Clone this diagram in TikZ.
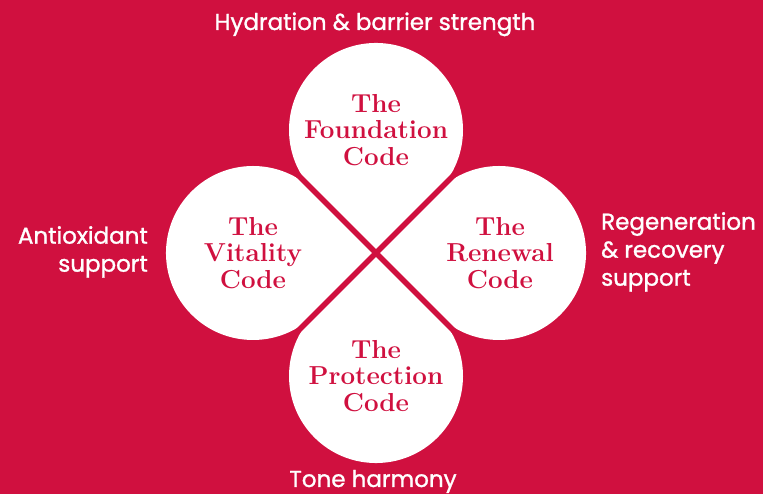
\documentclass[tikz,border=0pt]{standalone}
\usepackage{fontspec}
\usetikzlibrary{calc}
\newfontfamily\labelfont[FakeBold=1.2]{Poppins}
\definecolor{brand}{HTML}{D0103F}
\tikzset{
  petal/.style={fill=white},
  gapline/.style={draw=brand, line width=5.5pt},
  codetext/.style={text=brand, align=center, inner sep=0pt, font=\fontsize{26}{26.5}\selectfont\bfseries},
  sidelabel/.style={text=white, inner sep=0pt, font=\labelfont\fontsize{23}{28}\selectfont}
}
\begin{document}
\begin{tikzpicture}[x=1pt,y=1pt]
\fill[brand] (0,0) rectangle (763,494);
\useasboundingbox (0,0) rectangle (763,494);
\coordinate (O) at (376,241);
\foreach \k in {0,1,2,3}{
  \fill[petal, rotate around={90*\k:(O)}] (O) -- ++(45:87) arc[start angle=-45, end angle=225, radius=87] -- cycle;
}
\coordinate (d1) at ($(O)+(45:150)$);
\coordinate (d2) at ($(O)+(225:150)$);
\coordinate (d3) at ($(O)+(135:150)$);
\coordinate (d4) at ($(O)+(-45:150)$);
\draw[gapline] (d1) -- (d2);
\draw[gapline] (d3) -- (d4);
\node[codetext] (found) at (376,364) {The\\Foundation\\Code};
\node[codetext] (vital) at (253,241) {The\\Vitality\\Code};
\node[codetext] (renew) at (500,241) {The\\Renewal\\Code};
\node[codetext] (prot) at (376,118) {The\\Protection\\Code};
\node[sidelabel, anchor=base] (hyd) at (375,464) {Hydration \& barrier strength};
\node[sidelabel, anchor=base] (tone) at (373,7) {Tone harmony};
\node[sidelabel, anchor=north east, align=right] (anti) at (148,268) {Antioxidant\\support};
\node[sidelabel, anchor=north west, align=left] (regen) at (601,282) {Regeneration\\\& recovery\\support};
\end{tikzpicture}
\end{document}
